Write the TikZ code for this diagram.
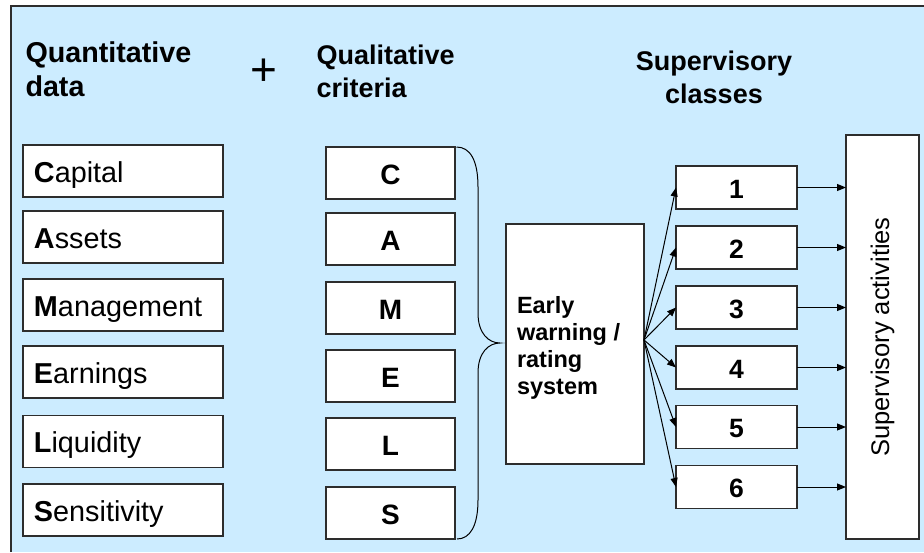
\documentclass[tikz,border=0pt]{standalone}
\usepackage{fontspec}
\setmainfont{Liberation Sans}
\usetikzlibrary{arrows.meta}
\definecolor{bgblue}{RGB}{204,236,255}
\definecolor{boxline}{RGB}{45,45,45}
\begin{document}
\begin{tikzpicture}[x=1pt,y=-1pt,
  every node/.style={inner sep=0pt, outer sep=0pt},
  titletxt/.style={font=\fontsize{27}{33}\selectfont\bfseries},
  databox/.style={draw=boxline, fill=white, line width=1.3pt, minimum width=200pt, minimum height=52pt,
     text width=178pt, inner xsep=11pt, align=left, text height=24.6pt, text depth=2pt,
     font=\fontsize{28.8}{32}\selectfont},
  critbox/.style={draw=boxline, fill=white, line width=1.3pt, minimum width=129pt, minimum height=52pt,
     text height=24pt, text depth=2pt, font=\fontsize{28}{32}\selectfont\bfseries},
  classbox/.style={draw=boxline, fill=white, line width=1.3pt, minimum width=121pt, minimum height=43pt,
     text height=23pt, text depth=2pt, font=\fontsize{26.5}{30}\selectfont\bfseries},
  plainbox/.style={draw=boxline, fill=white, line width=1.3pt},
  arr/.style={line width=1pt, -{Triangle[length=9pt,width=7pt]}}
]
\useasboundingbox (0,0) rectangle (924,552);
% background
\fill[bgblue] (11,6) rectangle (924,552);
\draw[boxline, line width=1.3pt] (11,552) -- (11,6) -- (924,6);

% titles
\node[font=\fontsize{28.7}{34}\selectfont\bfseries, anchor=north west, align=left] (t1) at (25.5,42) {Quantitative\\data};
\node[font=\fontsize{46}{46}\selectfont] (plus) at (264,72) {+};
\node[titletxt, anchor=north west, align=left] (t2) at (316.5,44.5) {Qualitative\\criteria};
\node[titletxt, anchor=north, align=center] (t3) at (714,50.5) {Supervisory\\classes};

% quantitative data boxes
\node[databox] (cap) at (123,171) {\textbf{C}apital};
\node[databox] (ass) at (123,237) {\textbf{A}ssets};
\node[databox] (man) at (123,305) {\textbf{M}anagement};
\node[databox] (ear) at (123,372) {\textbf{E}arnings};
\node[databox] (liq) at (123,441.5) {\textbf{L}iquidity};
\node[databox] (sen) at (123,510) {\textbf{S}ensitivity};

% qualitative criteria boxes
\node[critbox] (qc) at (390.5,173) {C};
\node[critbox] (qa) at (390.5,239) {A};
\node[critbox] (qm) at (390.5,308) {M};
\node[critbox] (qe) at (390.5,376) {E};
\node[critbox] (ql) at (390.5,444) {L};
\node[critbox] (qs) at (390.5,513) {S};

% brace
\draw[line width=1pt] (qc.north east) ++(1.5,0) coordinate (bt)
  .. controls (470,147) and (478,160) .. (478,187) -- (478,313)
  .. controls (478,334) and (489,343) .. (500,343) coordinate (btip)
  .. controls (489,343) and (478,352) .. (478,373) -- (478,500)
  .. controls (478,526) and (470,539) .. (457,539);

% early warning box
\node[plainbox, minimum width=138pt, minimum height=240pt] (ew) at (575,344) {};
\node[anchor=north west, align=left, font=\fontsize{23.5}{27}\selectfont\bfseries] (ewt) at (517,296) {Early\\warning /\\rating\\system};

% supervisory classes
\node[classbox] (c1) at (736.5,187.5) {1};
\node[classbox] (c2) at (736.5,247.5) {2};
\node[classbox] (c3) at (736.5,307.5) {3};
\node[classbox] (c4) at (736.5,367.5) {4};
\node[classbox] (c5) at (736.5,427) {5};
\node[classbox] (c6) at (736.5,487) {6};

% supervisory activities
\node[plainbox, rotate=90, minimum width=404pt, minimum height=73pt, font=\fontsize{25.5}{30}\selectfont] (act) at (882.5,337) {Supervisory activities};

% fan arrows
\coordinate (fan) at (644,340);
\foreach \c in {c1,c2,c3,c4,c5,c6} {
  \draw[arr] (fan) -- (\c.west);
  \draw[arr] (\c.east) -- (\c.east -| act.north);
}
\end{tikzpicture}
\end{document}
